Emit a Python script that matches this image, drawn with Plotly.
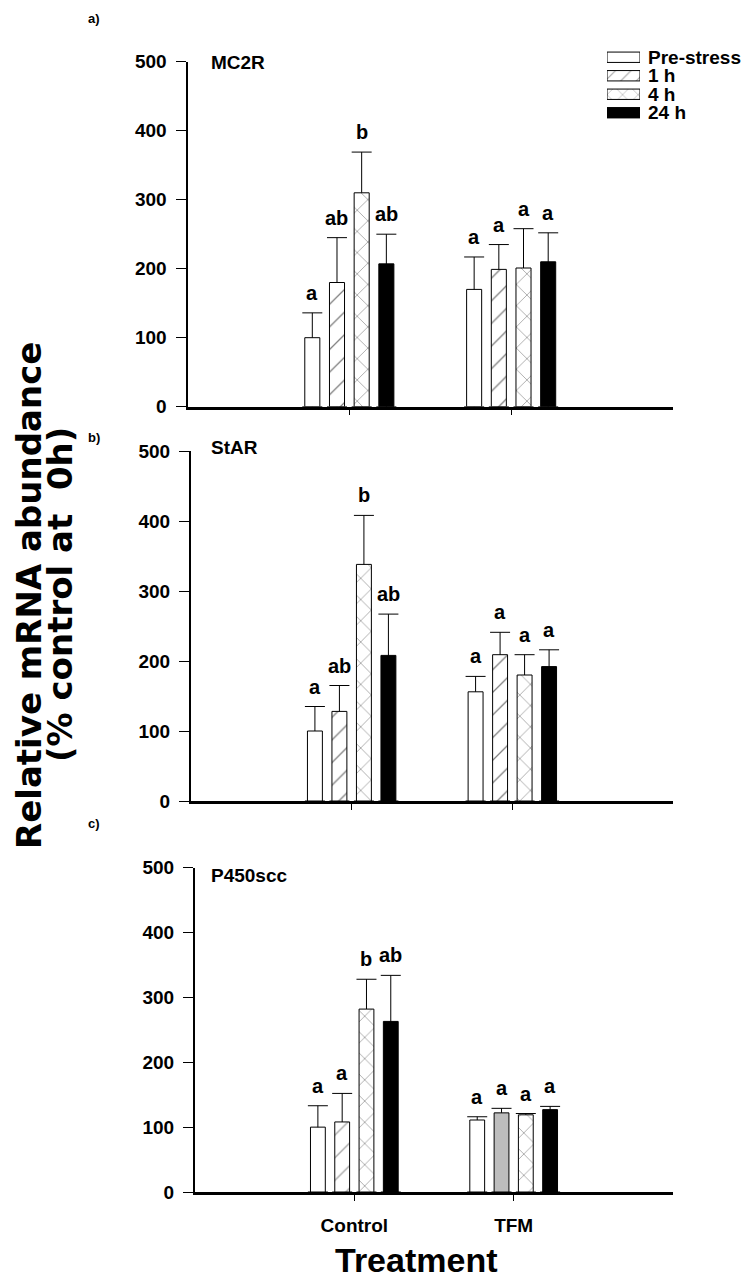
import plotly.graph_objects as go

# ---------------- data ----------------
groups = ["Control", "TFM"]
series = ["Pre-stress", "1 h", "4 h", "24 h"]
genes = ["MC2R", "StAR", "P450scc"]
panel_tags = ["a)", "b)", "c)"]
y_ticks = [0, 100, 200, 300, 400, 500]

# MC2R (panel a)
mc2r_pre = [100, 170]
mc2r_1h = [180, 199]
mc2r_4h = [310, 201]
mc2r_24h = [207, 210]
mc2r_pre_err = [36, 47]
mc2r_1h_err = [65, 36]
mc2r_4h_err = [59, 57]
mc2r_24h_err = [43, 42]
mc2r_letters = [["a", "a"], ["ab", "a"], ["b", "a"], ["ab", "a"]]

# StAR (panel b)
star_pre = [100, 156]
star_1h = [128, 209]
star_4h = [338, 180]
star_24h = [208, 192]
star_pre_err = [35, 22]
star_1h_err = [37, 32]
star_4h_err = [70, 29]
star_24h_err = [59, 24]
star_letters = [["a", "a"], ["ab", "a"], ["b", "a"], ["ab", "a"]]

# P450scc (panel c)
p450_pre = [100, 111]
p450_1h = [108, 122]
p450_4h = [282, 119]
p450_24h = [263, 127]
p450_pre_err = [33, 5]
p450_1h_err = [44, 7]
p450_4h_err = [46, 2]
p450_24h_err = [71, 5]
p450_letters = [["a", "a"], ["a", "a"], ["b", "a"], ["ab", "a"]]

panels = [
    dict(means=[mc2r_pre, mc2r_1h, mc2r_4h, mc2r_24h],
         errs=[mc2r_pre_err, mc2r_1h_err, mc2r_4h_err, mc2r_24h_err],
         letters=mc2r_letters),
    dict(means=[star_pre, star_1h, star_4h, star_24h],
         errs=[star_pre_err, star_1h_err, star_4h_err, star_24h_err],
         letters=star_letters),
    dict(means=[p450_pre, p450_1h, p450_4h, p450_24h],
         errs=[p450_pre_err, p450_1h_err, p450_4h_err, p450_24h_err],
         letters=p450_letters),
]

# ---------------- style / layout ----------------
PAGE_OFF = 8                     # default page margin of the html body
W, H = 754 - PAGE_OFF, 1280 - PAGE_OFF
FONT = "Liberation Sans, Arial, sans-serif"
BARGAP = 0.39
GROUPGAP = 0.39


def px_x(v):
    return (v - PAGE_OFF) / W


def px_y(v):
    return 1 - (v - PAGE_OFF) / H


x_left_px = [187.5, 191, 195]
x_right_px = 673
y0_px = [406.7, 801, 1192]
y500_px = [61.7, 451, 867.7]
tag_y_px = [18, 437, 823]
gene_y_px = [62, 448, 875]

SERIES_FILL = ["white", "white", "white", "black"]
SERIES_PATTERN = ["", "/", "x", ""]


def series_marker(panel_idx, s_idx):
    line = dict(color="black", width=1)
    if s_idx == 1 and panel_idx == 2:
        return dict(color=["white", "#bdbdbd"], line=line,
                    pattern=dict(shape=["/", ""], fgcolor="black",
                                 size=16, solidity=0.08))
    m = dict(color=SERIES_FILL[s_idx], line=line)
    if SERIES_PATTERN[s_idx]:
        m["pattern"] = dict(shape=SERIES_PATTERN[s_idx], fgcolor="black",
                            size=16 if s_idx == 1 else 15, solidity=0.08)
    return m


fig = go.Figure()
n = len(series)
slot = (1 - BARGAP) / n
offsets = [-(1 - BARGAP) / 2 + slot * (i + 0.5) for i in range(n)]

annotations = []
for p, panel in enumerate(panels):
    xa = "x" if p == 0 else f"x{p+1}"
    ya = "y" if p == 0 else f"y{p+1}"
    for s, name in enumerate(series):
        means = panel["means"][s]
        errs = panel["errs"][s]
        # error bars drawn beneath the bars (lower part hidden by the opaque bar)
        fig.add_trace(go.Bar(
            x=groups, y=means, xaxis=xa, yaxis=ya, offsetgroup=name,
            marker=dict(color="rgba(0,0,0,0)", line=dict(width=0)),
            error_y=dict(type="data", symmetric=False, array=errs, arrayminus=means,
                         color="black", thickness=1, width=10),
            showlegend=False, hoverinfo="skip"))
        fig.add_trace(go.Bar(
            x=groups, y=means, name=name, xaxis=xa, yaxis=ya, offsetgroup=name,
            showlegend=False, marker=series_marker(p, s)))
        for g in range(len(groups)):
            annotations.append(dict(
                x=g + offsets[s], y=means[g] + errs[g], xref=xa, yref=ya,
                text=panel["letters"][s][g], showarrow=False,
                xanchor="center", yanchor="bottom", yshift=7,
                font=dict(family=FONT, size=20, color="black", weight="bold")))

    dom_x = [px_x(x_left_px[p]), px_x(x_right_px)]
    dom_y = [px_y(y0_px[p]), px_y(y500_px[p])]
    xkey = "xaxis" if p == 0 else f"xaxis{p+1}"
    ykey = "yaxis" if p == 0 else f"yaxis{p+1}"
    fig.update_layout(**{
        xkey: dict(domain=dom_x, anchor=ya, type="category",
                   categoryorder="array", categoryarray=groups,
                   range=[-1, 2], showline=True, linecolor="black", linewidth=2.5,
                   ticks="outside", ticklen=6, tickwidth=1, tickcolor="black",
                   showgrid=False, zeroline=False, showticklabels=(p == 2),
                   ticklabelstandoff=8, automargin=False, fixedrange=True,
                   tickfont=dict(family=FONT, size=19, color="black", weight="bold")),
        ykey: dict(domain=dom_y, anchor=xa, range=[0, 500], tickvals=y_ticks,
                   showline=True, linecolor="black", linewidth=2,
                   ticks="outside", ticklen=10, tickwidth=1, tickcolor="black",
                   showgrid=False, zeroline=False, automargin=False, fixedrange=True,
                   ticklabelstandoff=5,
                   tickfont=dict(family=FONT, size=19, color="black", weight="bold")),
    })
    annotations.append(dict(
        x=px_x(86), y=px_y(tag_y_px[p]), xref="paper", yref="paper",
        text=panel_tags[p], showarrow=False, xanchor="left", yanchor="middle",
        font=dict(family=FONT, size=13, color="black", weight="bold")))
    annotations.append(dict(
        x=px_x(209), y=px_y(gene_y_px[p]), xref="paper", yref="paper",
        text=genes[p], showarrow=False, xanchor="left", yanchor="middle",
        font=dict(family=FONT, size=19, color="black", weight="bold")))

# ---- legend: patterned swatches on a small auxiliary axis, names as its tick labels ----
legend_top_px, legend_bottom_px = 48, 122
fig.add_trace(go.Bar(
    y=series, x=[1] * len(series), orientation="h", xaxis="x4", yaxis="y4",
    width=0.56, showlegend=False, hoverinfo="skip",
    marker=dict(color=SERIES_FILL, line=dict(color="black", width=1),
                pattern=dict(shape=SERIES_PATTERN, fgcolor="black",
                             size=[10, 11, 11, 10], solidity=0.1))))
fig.update_layout(
    xaxis4=dict(domain=[px_x(607), px_x(640)], anchor="y4", range=[0, 1],
                visible=False, fixedrange=True, automargin=False),
    yaxis4=dict(domain=[px_y(legend_bottom_px), px_y(legend_top_px)], anchor="x4",
                type="category", categoryorder="array",
                categoryarray=list(reversed(series)), side="right",
                tickmode="array", tickvals=series, ticktext=series,
                showline=False, showgrid=False, zeroline=False, ticks="",
                ticklabelstandoff=7, automargin=False, fixedrange=True,
                tickfont=dict(family=FONT, size=19, color="black", weight="bold")),
)

# axis titles
annotations.append(dict(
    x=px_x(29), y=px_y(596), xref="paper", yref="paper",
    text="Relative mRNA abundance", showarrow=False, textangle=-90,
    xanchor="center", yanchor="middle", borderpad=0,
    font=dict(family="DejaVu Sans", size=34, color="black", weight="bold")))
annotations.append(dict(
    x=px_x(60), y=px_y(595), xref="paper", yref="paper",
    text="(% control at\u00a0\u00a00h)", showarrow=False, textangle=-90,
    xanchor="center", yanchor="middle", borderpad=0,
    font=dict(family="DejaVu Sans", size=34, color="black", weight="bold")))
annotations.append(dict(
    x=px_x(416), y=px_y(1260), xref="paper", yref="paper",
    text="Treatment", showarrow=False, xanchor="center", yanchor="middle",
    font=dict(family=FONT, size=34, color="black", weight="bold")))

fig.update_layout(
    width=W, height=H, margin=dict(l=0, r=0, t=0, b=0, autoexpand=False),
    paper_bgcolor="white", plot_bgcolor="white",
    barmode="group", bargap=BARGAP, bargroupgap=GROUPGAP,
    showlegend=False,
    annotations=annotations,
)

fig.write_html("out.html")
